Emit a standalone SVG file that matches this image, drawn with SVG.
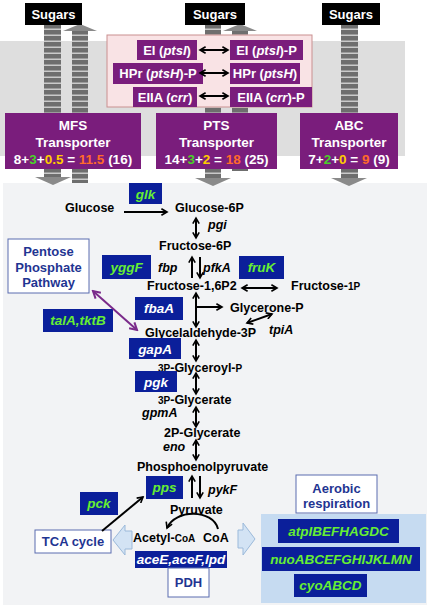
<svg xmlns="http://www.w3.org/2000/svg" width="430" height="611" viewBox="0 0 430 611">
<defs>
<pattern id="stripe" patternUnits="userSpaceOnUse" width="20" height="6"><rect width="20" height="6" fill="#cacaca"/><rect width="20" height="4.5" fill="#6e6e6e"/></pattern>
<marker id="ah" viewBox="0 0 10 10" refX="8" refY="5" markerWidth="8" markerHeight="8" markerUnits="userSpaceOnUse" orient="auto"><path d="M1,1 L8,5 L1,9" fill="none" stroke="#000" stroke-width="2"/></marker>
<marker id="ahs" viewBox="0 0 10 10" refX="2" refY="5" markerWidth="8" markerHeight="8" markerUnits="userSpaceOnUse" orient="auto"><path d="M9,1 L2,5 L9,9" fill="none" stroke="#000" stroke-width="2"/></marker>
<marker id="pah" viewBox="0 0 10 10" refX="8" refY="5" markerWidth="10" markerHeight="10" markerUnits="userSpaceOnUse" orient="auto"><path d="M1,1 L8,5 L1,9" fill="none" stroke="#7a2a8a" stroke-width="2"/></marker>
<marker id="pahs" viewBox="0 0 10 10" refX="2" refY="5" markerWidth="10" markerHeight="10" markerUnits="userSpaceOnUse" orient="auto"><path d="M9,1 L2,5 L9,9" fill="none" stroke="#7a2a8a" stroke-width="2"/></marker>
</defs>
<style>
text{font-family:"Liberation Sans",Arial,sans-serif;font-weight:bold}
.sug{fill:#fff;font-size:13px;text-anchor:middle}
.pb{fill:#7a1d7c}
.pt{fill:#fff;font-size:13px;text-anchor:middle}
.tr{fill:#fff;font-size:13.5px;text-anchor:middle}
.m{font-size:12.5px;fill:#000}
.sm{font-size:10px}
.e{font-size:12.5px;font-style:italic;fill:#000}
.gb{fill:#0b1f9a}
.g{font-size:13.5px;font-style:italic;fill:#66ee33;text-anchor:middle}
.gw{font-size:13.5px;font-style:italic;fill:#fff;text-anchor:middle}
.wb{fill:#fff;stroke:#5a6db0;stroke-width:1}
.bl{font-size:13px;fill:#1f3592;text-anchor:middle}
.arr{fill:none;stroke:#000;stroke-width:2}
.gr{fill:#4ad12a}.yl{fill:#ffcc00}.or{fill:#ff6a2a}
.hd{fill:#8a8a8a}
</style>
<rect width="430" height="611" fill="#fff"/>
<rect x="0" y="41" width="405" height="115" fill="#dedede"/>
<rect x="3" y="183" width="424" height="422" fill="#f2f3f5"/>

<g id="stripes">
<rect x="44" y="25" width="17" height="153" fill="url(#stripe)"/>
<polygon class="hd" points="35,177 71,177 53,185"/>
<rect x="72" y="31" width="16" height="152" fill="url(#stripe)"/>
<polygon class="hd" points="63,31 80,24 97,31"/>
<rect x="205" y="25" width="16" height="153" fill="url(#stripe)"/>
<polygon class="hd" points="195,178 231,178 213,186"/>
<rect x="232" y="31" width="16" height="140" fill="url(#stripe)"/>
<polygon class="hd" points="223,31 240,24 257,31"/>
<rect x="341" y="25" width="17" height="153" fill="url(#stripe)"/>
<polygon class="hd" points="331,178 367,178 349,186"/>
</g>

<g id="sugars1"><rect x="25" y="3" width="57" height="22" fill="#000"/><text class="sug" x="53.5" y="19">Sugars</text></g>
<g id="sugars2"><rect x="185" y="3" width="60" height="22" fill="#000"/><text class="sug" x="215" y="19">Sugars</text></g>
<g id="sugars3"><rect x="322" y="3" width="58" height="22" fill="#000"/><text class="sug" x="351" y="19">Sugars</text></g>

<g id="pts-box">
<rect x="107" y="35" width="205" height="72" fill="#f9e3e5" stroke="#c99090" stroke-width="1"/>
</g>
<g id="ei"><rect class="pb" x="137" y="40" width="60" height="20"/><text class="pt" x="167" y="55">EI (<tspan font-style="italic">ptsI</tspan>)</text></g>
<g id="ei-p"><rect class="pb" x="230" y="40" width="73" height="20"/><text class="pt" x="266.5" y="55">EI (<tspan font-style="italic">ptsI</tspan>)-P</text></g>
<g id="hpr-p"><rect class="pb" x="113" y="63" width="90" height="21"/><text class="pt" x="158" y="78">HPr (<tspan font-style="italic">ptsH</tspan>)-P</text></g>
<g id="hpr"><rect class="pb" x="230" y="63" width="70" height="21"/><text class="pt" x="265" y="78">HPr (<tspan font-style="italic">ptsH</tspan>)</text></g>
<g id="eiia"><rect class="pb" x="133" y="87" width="64" height="20"/><text class="pt" x="165" y="102">EIIA (<tspan font-style="italic">crr</tspan>)</text></g>
<g id="eiia-p"><rect class="pb" x="230" y="87" width="82" height="20"/><text class="pt" x="271" y="102">EIIA (<tspan font-style="italic">crr</tspan>)-P</text></g>

<g id="mfs"><rect class="pb" x="5" y="113" width="136" height="56"/>
<text class="tr" x="73" y="130">MFS</text><text class="tr" x="73" y="147">Transporter</text>
<text class="tr" x="73" y="164">8+<tspan class="gr">3</tspan>+<tspan class="yl">0.5</tspan> = <tspan class="or">11.5</tspan> (16)</text></g>
<g id="pts"><rect class="pb" x="156" y="113" width="121" height="56"/>
<text class="tr" x="216.5" y="130">PTS</text><text class="tr" x="216.5" y="147">Transporter</text>
<text class="tr" x="216.5" y="164">14+<tspan class="gr">3</tspan>+<tspan class="yl">2</tspan> = <tspan class="or">18</tspan> (25)</text></g>
<g id="abc"><rect class="pb" x="300" y="113" width="98" height="56"/>
<text class="tr" x="349" y="130">ABC</text><text class="tr" x="349" y="147">Transporter</text>
<text class="tr" x="349" y="164">7+<tspan class="gr">2</tspan>+<tspan class="yl">0</tspan> = <tspan class="or">9</tspan> (9)</text></g>

<g id="ppp"><rect class="wb" x="8" y="239" width="81" height="54"/>
<text class="bl" x="48.5" y="256">Pentose</text><text class="bl" x="48.5" y="272">Phosphate</text><text class="bl" x="48.5" y="287">Pathway</text></g>

<g id="metabolites">
<text class="m" x="65" y="212">Glucose</text>
<text class="m" x="175" y="212" font-size="11.5">Glucose-6P</text>
<text class="m" x="159" y="250">Fructose-6P</text>
<text class="m" x="147" y="289.5">Fructose-1,6P2</text>
<text class="m" x="291" y="289.5">Fructose-<tspan class="sm">1P</tspan></text>
<text class="m" x="230" y="311.5">Glycerone-P</text>
<text class="m" x="145" y="336.5">Glycelaldehyde-3P</text>
<text class="m" x="158" y="371.5"><tspan class="sm">3P</tspan>-Glyceroyl-<tspan class="sm">P</tspan></text>
<text class="m" x="158" y="403.5"><tspan class="sm">3P</tspan>-Glycerate</text>
<text class="m" x="164" y="436.5">2P-Glycerate</text>
<text class="m" x="137" y="470.5">Phosphoenolpyruvate</text>
<text class="m" x="170" y="513.5">Pyruvate</text>
<text class="m" x="133" y="541.5">Acetyl-<tspan class="sm">CoA</tspan></text>
<text class="m" x="203" y="541.5">CoA</text>
</g>

<g id="enzymes">
<text class="e" x="208" y="229">pgi</text>
<text class="e" x="158" y="272">fbp</text>
<text class="e" x="203" y="272">pfkA</text>
<text class="e" x="269" y="333.5">tpiA</text>
<text class="e" x="142" y="417">gpmA</text>
<text class="e" x="163" y="451">eno</text>
<text class="e" x="208" y="493.5">pykF</text>
</g>

<g id="glk"><rect class="gb" x="129" y="183" width="33" height="21"/><text class="g" x="145.5" y="199">glk</text></g>
<g id="yggF"><rect class="gb" x="102" y="255" width="49" height="24"/><text class="g" x="126.5" y="272">yggF</text></g>
<g id="fruK"><rect class="gb" x="239" y="256" width="45" height="23"/><text class="g" x="261.5" y="272">fruK</text></g>
<g id="talA"><rect class="gb" x="43" y="309" width="70" height="23"/><text class="g" x="78" y="325">talA,tktB</text></g>
<g id="fbaA"><rect class="gb" x="135" y="297" width="48" height="23"/><text class="gw" x="159" y="313">fbaA</text></g>
<g id="gapA"><rect class="gb" x="129" y="338" width="52" height="21"/><text class="gw" x="155" y="353.5">gapA</text></g>
<g id="pgk"><rect class="gb" x="135" y="371" width="42" height="21"/><text class="gw" x="156" y="386.5">pgk</text></g>
<g id="pps"><rect class="gb" x="146" y="476" width="37" height="23"/><text class="g" x="164.5" y="492">pps</text></g>
<g id="pck"><rect class="gb" x="80" y="492" width="38" height="23"/><text class="g" x="99" y="508">pck</text></g>
<g id="tca"><rect class="wb" x="35" y="530" width="76" height="23"/><text class="bl" x="73" y="546">TCA cycle</text></g>
<g id="pdh-genes"><rect class="gb" x="135" y="551" width="92" height="17"/><text class="gw" x="181" y="564" font-size="12">aceE,aceF,lpd</text></g>
<g id="pdh"><rect class="wb" x="168" y="568" width="41" height="29"/><text class="bl" x="188.5" y="587">PDH</text></g>

<g id="aerobic"><rect class="wb" x="296" y="475" width="81" height="38"/>
<text class="bl" x="336.5" y="492.5">Aerobic</text><text class="bl" x="336.5" y="507.5">respiration</text></g>
<g id="resp-panel"><rect x="261" y="514" width="165" height="89" fill="#c6dbf1"/></g>
<g id="atp"><rect class="gb" x="278" y="519" width="121" height="24"/><text class="g" x="338.5" y="536">atpIBEFHAGDC</text></g>
<g id="nuo"><rect class="gb" x="262" y="547" width="158" height="24"/><text class="g" x="341" y="564">nuoABCEFGHIJKLMN</text></g>
<g id="cyo"><rect class="gb" x="294" y="574" width="73" height="23"/><text class="g" x="330.5" y="590">cyoABCD</text></g>

<g id="connectors">
<path class="arr" d="M200,50 H228" marker-start="url(#ahs)" marker-end="url(#ah)"/>
<path class="arr" d="M200,73 H228" marker-start="url(#ahs)" marker-end="url(#ah)"/>
<path class="arr" d="M200,96 H228" marker-start="url(#ahs)" marker-end="url(#ah)"/>
<path class="arr" d="M124,212 H167" marker-end="url(#ah)"/>
<path class="arr" d="M196,218 V238" marker-start="url(#ahs)" marker-end="url(#ah)"/>
<path class="arr" d="M192,278 V257" marker-end="url(#ah)"/>
<path class="arr" d="M200,257 V278" marker-end="url(#ah)"/>
<path class="arr" d="M242,288 H277" marker-start="url(#ahs)" marker-end="url(#ah)"/>
<path class="arr" d="M196,293 V327" marker-start="url(#ahs)" marker-end="url(#ah)"/>
<path class="arr" d="M196,307 H222" marker-end="url(#ah)"/>
<path class="arr" d="M247,323 L272,314" marker-start="url(#ahs)" marker-end="url(#ah)"/>
<path class="arr" d="M196,340 V361" marker-start="url(#ahs)" marker-end="url(#ah)"/>
<path class="arr" d="M196,373 V394" marker-start="url(#ahs)" marker-end="url(#ah)"/>
<path class="arr" d="M196,407 V427" marker-start="url(#ahs)" marker-end="url(#ah)"/>
<path class="arr" d="M196,440 V460" marker-start="url(#ahs)" marker-end="url(#ah)"/>
<path class="arr" d="M192,498 V476" marker-end="url(#ah)"/>
<path class="arr" d="M200,476 V498" marker-end="url(#ah)"/>
<path class="arr" d="M102,531 L143,497" marker-end="url(#ah)"/>
<path class="arr" d="M218,529 C213,509 175,509 167,528" marker-end="url(#ah)"/>
<path fill="none" stroke="#7a2a8a" stroke-width="2" d="M93,291 L137,330" marker-start="url(#pahs)" marker-end="url(#pah)"/>
<polygon points="113,540 125,525 125,531 132,531 132,549 125,549 125,555" fill="#d3e3f4" stroke="#9bb9da" stroke-width="1"/>
<polygon points="255,539 243,523 243,530 238,530 238,548 243,548 243,555" fill="#d3e3f4" stroke="#9bb9da" stroke-width="1"/>
</g>
</svg>
